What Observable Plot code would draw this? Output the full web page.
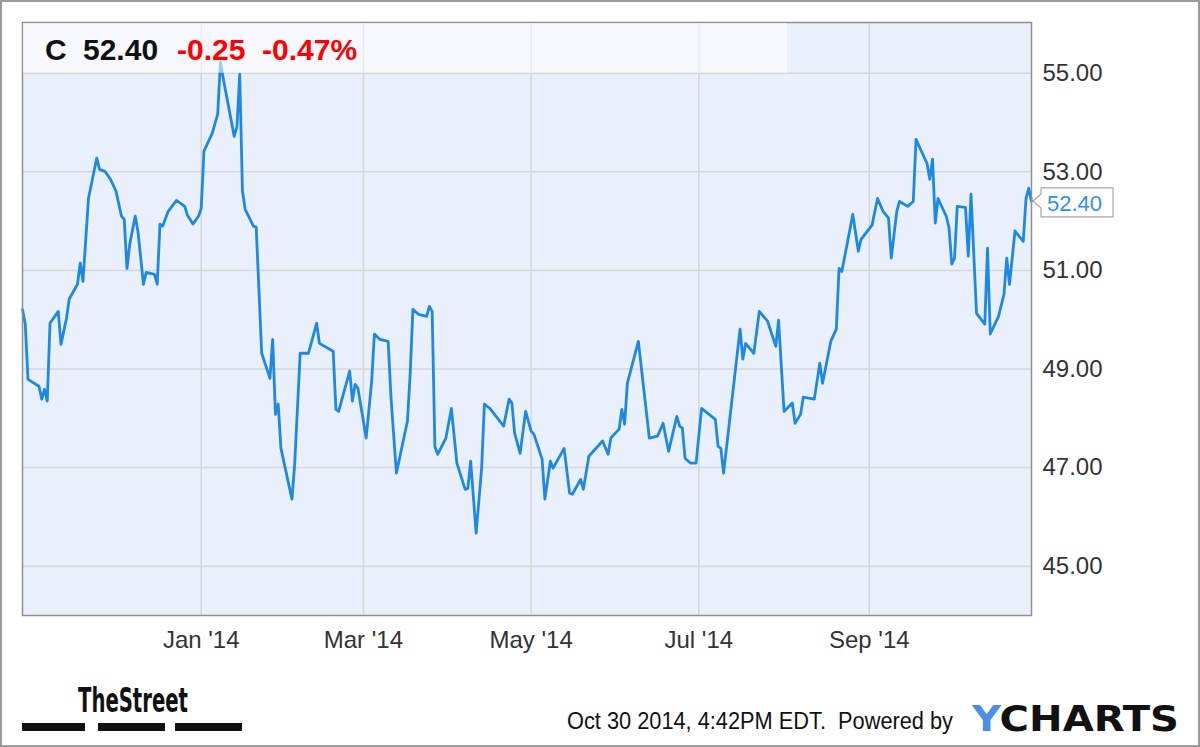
<!DOCTYPE html>
<html><head><meta charset="utf-8">
<script src="https://cdn.jsdelivr.net/npm/d3@7"></script>
<script src="https://cdn.jsdelivr.net/npm/@observablehq/plot@0.6"></script>
<style>body{margin:0;background:#fff}</style>
</head><body><div id="chart"></div>
<script>
const dates = ["2013-10-28","2013-10-29","2013-10-30","2013-11-03","2013-11-04","2013-11-05","2013-11-06","2013-11-07","2013-11-10","2013-11-11","2013-11-13","2013-11-14","2013-11-17","2013-11-18","2013-11-19","2013-11-21","2013-11-24","2013-11-25","2013-11-27","2013-11-29","2013-12-01","2013-12-03","2013-12-04","2013-12-05","2013-12-06","2013-12-08","2013-12-09","2013-12-11","2013-12-12","2013-12-15","2013-12-16","2013-12-17","2013-12-18","2013-12-20","2013-12-23","2013-12-26","2013-12-27","2013-12-29","2013-12-31","2014-01-01","2014-01-02","2014-01-05","2014-01-07","2014-01-08","2014-01-09","2014-01-13","2014-01-14","2014-01-15","2014-01-16","2014-01-17","2014-01-20","2014-01-21","2014-01-23","2014-01-26","2014-01-27","2014-01-28","2014-01-29","2014-01-30","2014-02-03","2014-02-04","2014-02-06","2014-02-09","2014-02-12","2014-02-13","2014-02-18","2014-02-19","2014-02-20","2014-02-24","2014-02-25","2014-02-26","2014-02-27","2014-03-02","2014-03-04","2014-03-05","2014-03-07","2014-03-10","2014-03-11","2014-03-13","2014-03-17","2014-03-18","2014-03-19","2014-03-21","2014-03-24","2014-03-25","2014-03-26","2014-03-27","2014-03-28","2014-03-31","2014-04-02","2014-04-04","2014-04-07","2014-04-08","2014-04-09","2014-04-11","2014-04-13","2014-04-14","2014-04-16","2014-04-21","2014-04-23","2014-04-24","2014-04-25","2014-04-27","2014-04-29","2014-05-01","2014-05-02","2014-05-05","2014-05-06","2014-05-08","2014-05-09","2014-05-13","2014-05-15","2014-05-16","2014-05-19","2014-05-20","2014-05-22","2014-05-27","2014-05-29","2014-05-30","2014-06-02","2014-06-03","2014-06-04","2014-06-05","2014-06-09","2014-06-13","2014-06-16","2014-06-18","2014-06-20","2014-06-23","2014-06-24","2014-06-25","2014-06-26","2014-06-28","2014-06-30","2014-07-02","2014-07-07","2014-07-08","2014-07-09","2014-07-10","2014-07-13","2014-07-16","2014-07-17","2014-07-18","2014-07-21","2014-07-23","2014-07-26","2014-07-29","2014-07-30","2014-08-01","2014-08-04","2014-08-05","2014-08-07","2014-08-08","2014-08-12","2014-08-14","2014-08-15","2014-08-18","2014-08-20","2014-08-21","2014-08-22","2014-08-24","2014-08-26","2014-08-28","2014-08-29","2014-09-02","2014-09-04","2014-09-06","2014-09-08","2014-09-09","2014-09-11","2014-09-12","2014-09-15","2014-09-17","2014-09-18","2014-09-22","2014-09-23","2014-09-24","2014-09-25","2014-09-26","2014-09-29","2014-09-30","2014-10-01","2014-10-02","2014-10-03","2014-10-06","2014-10-07","2014-10-08","2014-10-10","2014-10-13","2014-10-14","2014-10-15","2014-10-16","2014-10-18","2014-10-20","2014-10-21","2014-10-22","2014-10-24","2014-10-27","2014-10-28","2014-10-29","2014-10-30"];
const prices = [50.21,49.91,48.79,48.65,48.39,48.59,48.35,49.93,50.17,49.50,50.03,50.42,50.72,51.15,50.78,52.46,53.28,53.05,53.01,52.85,52.61,52.10,52.04,51.04,51.53,52.10,51.79,50.72,50.96,50.92,50.72,51.94,51.90,52.20,52.42,52.30,52.12,51.94,52.10,52.26,53.42,53.78,54.17,55.22,54.90,53.72,53.92,54.98,52.61,52.24,51.90,51.88,49.32,48.81,49.60,48.08,48.29,47.39,46.36,47.07,49.32,49.32,49.93,49.52,49.36,48.18,48.14,48.96,48.35,48.69,48.61,47.60,48.75,49.71,49.60,49.56,48.45,46.89,47.94,48.89,50.21,50.11,50.07,50.27,50.17,47.43,47.27,47.60,48.20,47.09,46.56,46.58,47.13,45.67,46.99,48.29,48.20,47.84,48.39,48.31,47.70,47.29,48.14,47.74,47.68,47.17,46.36,47.13,46.99,47.39,46.48,46.46,46.76,46.56,47.23,47.54,47.27,47.60,47.78,48.18,47.88,48.71,49.56,47.60,47.64,47.90,47.33,48.04,47.84,47.80,47.19,47.09,47.09,48.20,47.98,47.43,47.39,46.89,48.35,49.81,49.20,49.52,49.32,50.17,49.97,49.46,49.99,48.14,48.31,47.90,48.08,48.43,48.39,49.12,48.71,49.56,49.81,51.04,50.98,51.55,52.14,51.39,51.63,51.92,52.46,52.20,52.06,51.25,52.20,52.40,52.30,52.40,53.66,53.17,52.85,53.26,51.96,52.46,52.10,51.86,51.13,51.25,52.30,52.28,51.29,52.55,50.13,49.91,51.45,49.71,49.83,50.07,50.52,51.25,50.72,51.80,51.59,52.46,52.67,52.40];
const yTicks = [45, 47, 49, 51, 53, 55];
const xTickDates = ["2014-01-01","2014-03-01","2014-05-01","2014-07-01","2014-09-01"];
const ticker = "C";
const lastPrice = "52.40";
const change = "-0.25";
const changePct = "-0.47%";
const stamp = "Oct 30 2014, 4:42PM EDT.  Powered by";

const data = dates.map((d, i) => ({date: new Date(d), price: prices[i]}));
const xTicks = xTickDates.map(d => new Date(d));
const fmt = d3.utcFormat("%b '%y");

const chart = Plot.plot({
  width: 1200, height: 747,
  marginLeft: 22, marginRight: 169, marginTop: 22, marginBottom: 132,
  style: {fontFamily: "'Liberation Sans', Arial, sans-serif", background: "#fff", color: "#333"},
  x: {type: "utc", domain: [new Date("2013-10-28"), new Date("2014-10-30")], label: null},
  y: {domain: [44, 56.03], label: null},
  marks: [
    Plot.frame({fill: "#eaf0fb", stroke: null}),
    Plot.gridY(yTicks, {stroke: "#d6d6d6", strokeOpacity: 1, strokeWidth: 1.5}),
    Plot.gridX(xTicks, {stroke: "#d6d6d6", strokeOpacity: 1, strokeWidth: 1.5}),
    Plot.axisY(yTicks, {anchor: "right", label: null, tickSize: 0, tickPadding: 11, tickFormat: d => d.toFixed(2), fontSize: 24, fill: "#333"}),
    Plot.axisX(xTicks, {anchor: "bottom", label: null, tickSize: 0, tickPadding: 15, tickFormat: fmt, fontSize: 24, fill: "#333"}),
    Plot.lineY(data, {x: "date", y: "price", stroke: "#1e88e5", strokeWidth: 2.8, strokeLinejoin: "round"}),
    Plot.frame({stroke: "#8f8f8f", strokeWidth: 1.5})
  ]
});

const svg = d3.select(chart);
const sx = chart.scale("x"), sy = chart.scale("y");
const right = sx.apply(new Date("2014-10-30"));
const addText = (x, y) => svg.append("text").attr("x", x).attr("y", y).attr("text-anchor", "start")
  .style("text-anchor", "start").attr("font-family", "'Liberation Sans', Arial, sans-serif");

// header band
svg.append("rect").attr("x", 23).attr("y", 23).attr("width", 764).attr("height", sy.apply(55) - 23)
  .attr("fill", "#fff").attr("fill-opacity", 0.55);
addText(45, 60).attr("font-size", 30).attr("font-weight", "bold").attr("fill", "#111").text(ticker);
addText(83, 60).attr("font-size", 30).attr("font-weight", "bold").attr("fill", "#111").text(lastPrice);
addText(177, 60).attr("font-size", 30).attr("font-weight", "bold").attr("fill", "#ff0000").text(change);
addText(262, 60).attr("font-size", 30).attr("font-weight", "bold").attr("fill", "#ff0000").text(changePct);

// last value callout
const yy = sy.apply(+lastPrice);
const x0 = right + 2, bx = x0 + 8, bw = 72;
svg.append("path")
  .attr("d", `M${x0},${yy} L${bx},${yy - 7} L${bx},${yy - 13} L${bx + bw},${yy - 13} L${bx + bw},${yy + 16} L${bx},${yy + 16} L${bx},${yy + 7} Z`)
  .attr("fill", "#fff").attr("stroke", "#a8a8a8").attr("stroke-width", 1.2);
addText(bx + 6, yy + 10).attr("font-size", 22).attr("fill", "#3390ea").text(lastPrice);

// footer: TheStreet logo
addText(78, 712).attr("font-size", 34).attr("font-weight", "bold")
  .attr("font-family", "'Liberation Sans Narrow', 'DejaVu Sans Condensed', sans-serif")
  .attr("textLength", 110).attr("lengthAdjust", "spacingAndGlyphs").attr("fill", "#111").text("TheStreet");
[[22, 85], [98, 165], [175, 242]].forEach(([a, b]) => {
  svg.append("rect").attr("x", a).attr("y", 723).attr("width", b - a).attr("height", 8).attr("fill", "#111");
});

// footer stamp
addText(567, 729).attr("font-size", 23)
  .attr("font-family", "'Liberation Sans Narrow', 'Liberation Sans', sans-serif")
  .attr("textLength", 386).attr("lengthAdjust", "spacingAndGlyphs").attr("fill", "#111").text(stamp);
const yc = addText(972, 731).attr("font-size", 36).attr("font-weight", "bold")
  .attr("font-family", "'DejaVu Sans', sans-serif").attr("textLength", 207).attr("lengthAdjust", "spacingAndGlyphs");
yc.append("tspan").attr("fill", "#4a90e2").text("Y");
yc.append("tspan").attr("fill", "#111").text("CHARTS");

// outer border
svg.append("rect").attr("x", 1).attr("y", 1).attr("width", 1198).attr("height", 745)
  .attr("fill", "none").attr("stroke", "#9a9a9a").attr("stroke-width", 2);

document.getElementById("chart").appendChild(chart);
</script>
</body></html>
